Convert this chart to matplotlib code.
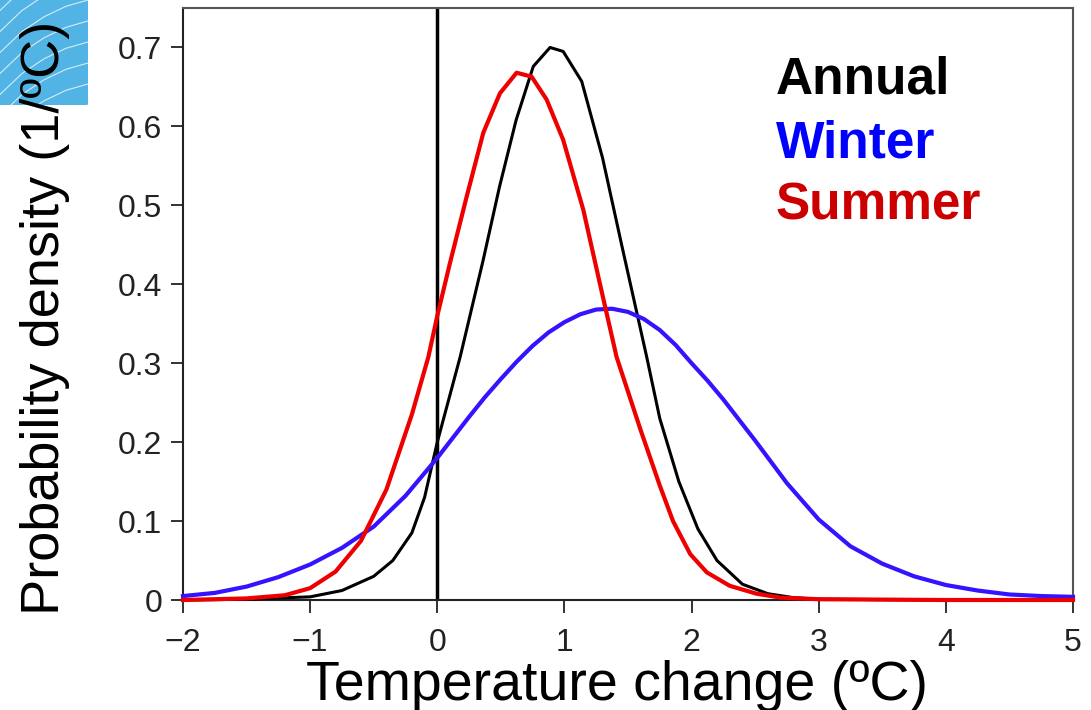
import matplotlib
matplotlib.use('Agg')
import matplotlib.pyplot as plt

# 数据
annual_x = [-2, -1.5, -1.0, -0.75, -0.5, -0.35, -0.2, -0.1, 0, 0.18, 0.36, 0.49, 0.62, 0.755, 0.887,
            0.99, 1.136, 1.3, 1.45, 1.647, 1.75, 1.9, 2.05, 2.2, 2.4, 2.6, 2.8, 3.0, 4.0, 5.0]
annual_y = [0, 0.001, 0.004, 0.012, 0.03, 0.05, 0.085, 0.13, 0.20, 0.308, 0.43, 0.524, 0.608, 0.676, 0.70,
            0.695, 0.657, 0.56, 0.45, 0.308, 0.23, 0.15, 0.09, 0.05, 0.02, 0.008, 0.003, 0.001, 0, 0]

winter_x = [-2, -1.75, -1.5, -1.25, -1.0, -0.75, -0.5, -0.25, 0, 0.125, 0.25, 0.375, 0.5, 0.625,
            0.75, 0.875, 1.0, 1.125, 1.25, 1.375, 1.5, 1.625, 1.75, 1.875, 2.0, 2.125, 2.25, 2.375,
            2.5, 2.75, 3.0, 3.25, 3.5, 3.75, 4.0, 4.25, 4.5, 4.75, 5.0]
winter_y = [0.005, 0.009, 0.017, 0.029, 0.045, 0.066, 0.093, 0.132, 0.18, 0.206, 0.232, 0.257, 0.28, 0.302,
            0.322, 0.339, 0.352, 0.362, 0.368, 0.369, 0.365, 0.356, 0.342, 0.323, 0.30, 0.278, 0.254, 0.228,
            0.202, 0.148, 0.102, 0.068, 0.046, 0.03, 0.019, 0.012, 0.007, 0.005, 0.004]

summer_x = [-2, -1.5, -1.2, -1.0, -0.8, -0.6, -0.4, -0.2, -0.07, 0, 0.1, 0.231, 0.362, 0.493, 0.624,
            0.742, 0.86, 0.99, 1.149, 1.28, 1.41, 1.6, 1.75, 1.854, 1.99, 2.12, 2.3, 2.51, 2.7, 3.0, 4.0, 5.0]
summer_y = [0, 0.002, 0.006, 0.015, 0.036, 0.075, 0.14, 0.235, 0.308, 0.36, 0.427, 0.511, 0.592, 0.642, 0.668,
            0.663, 0.634, 0.583, 0.494, 0.40, 0.308, 0.215, 0.145, 0.10, 0.058, 0.035, 0.018, 0.008, 0.003, 0.001, 0, 0]

xticks = [-2, -1, 0, 1, 2, 3, 4, 5]
yticks = [0, 0.1, 0.2, 0.3, 0.4, 0.5, 0.6, 0.7]
ytick_labels = ['0', '0.1', '0.2', '0.3', '0.4', '0.5', '0.6', '0.7']

plt.rcParams['font.family'] = 'Liberation Sans'

fig = plt.figure(figsize=(10.91, 7.10), dpi=100)

# 左上角蓝色装饰块
deco = fig.add_axes([0, 1 - 105 / 710, 88 / 1091, 105 / 710])
deco.set_facecolor('#52b4e4')
deco.set_xlim(0, 1)
deco.set_ylim(0, 1)
for k in range(8):
    off = k * 0.2 - 0.5
    deco.plot([0, 0.25, 0.5, 0.75, 1.0], [off, off + 0.2, off + 0.34, off + 0.44, off + 0.5],
              color='white', lw=0.8, alpha=0.75)
deco.set_xticks([])
deco.set_yticks([])
for s in deco.spines.values():
    s.set_visible(False)

ax = fig.add_axes([183 / 1091, 1 - 600 / 710, 890 / 1091, 592 / 710])

ax.plot(annual_x, annual_y, color='black', lw=2.2, clip_on=False, zorder=3)
ax.plot(winter_x, winter_y, color='#3414ff', lw=3, clip_on=False, zorder=3)
ax.plot(summer_x, summer_y, color='#ee0000', lw=3, clip_on=False, zorder=4)
ax.axvline(0, color='black', lw=2.5, zorder=2)

ax.set_xlim(-2, 5)
ax.set_ylim(0, 0.75)
ax.set_xticks(xticks)
ax.set_xticklabels(['\u2212' + str(-t) if t < 0 else str(t) for t in xticks])
ax.set_yticks(yticks)
ax.set_yticklabels(ytick_labels)
ax.tick_params(direction='out', length=9, width=1.3, color='#222222',
               labelsize=23, labelcolor='#222222', top=False, right=False)
ax.tick_params(axis='x', pad=11)
ax.tick_params(axis='y', pad=6)

ax.spines['left'].set_color('#222222')
ax.spines['bottom'].set_color('#222222')
ax.spines['top'].set_color('#555555')
ax.spines['right'].set_color('#555555')
for s in ax.spines.values():
    s.set_linewidth(1.5)

# 图例文字
fig.text(776 / 1091, 1 - 93 / 710, 'Annual', color='black', fontsize=37, fontweight='bold', va='baseline')
fig.text(776 / 1091, 1 - 157 / 710, 'Winter', color='#0000ff', fontsize=37, fontweight='bold', va='baseline')
fig.text(776 / 1091, 1 - 220 / 710, 'Summer', color='#cc0000', fontsize=37, fontweight='bold', va='baseline')

# 坐标轴标题
fig.text(617 / 1091, 1 - 700 / 710, 'Temperature change (ºC)', fontsize=40, ha='center', va='baseline')
fig.text(45 / 1091, 1 - 615 / 710, 'Probability density (1/ºC)', fontsize=39, rotation=90,
         ha='center', va='bottom')

plt.savefig('out.png', dpi=100)
